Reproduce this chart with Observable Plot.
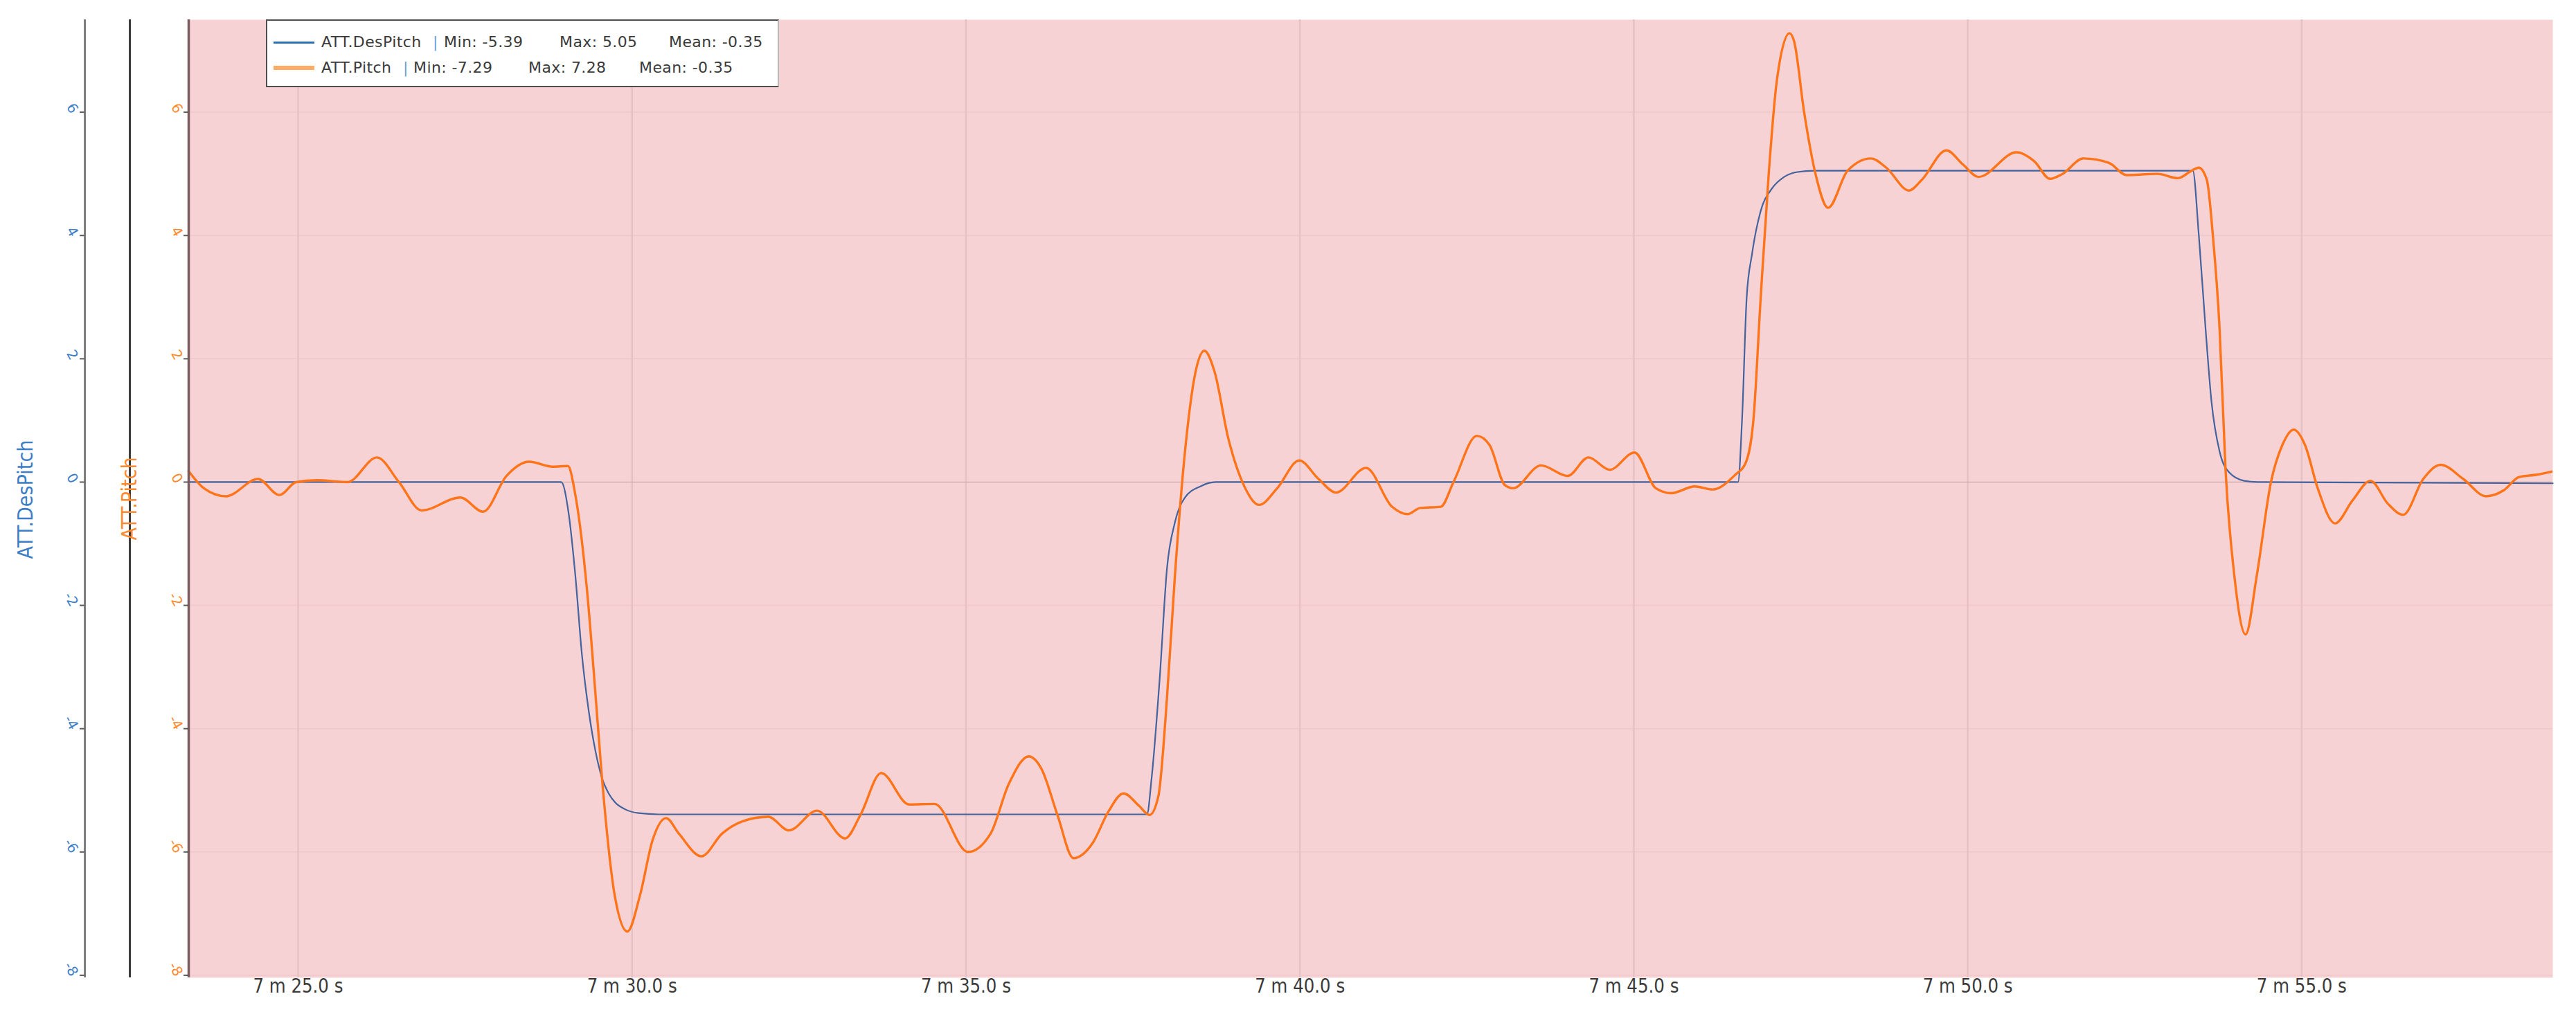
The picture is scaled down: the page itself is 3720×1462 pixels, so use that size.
<!DOCTYPE html>
<html><head><meta charset="utf-8">
<script src="https://cdn.jsdelivr.net/npm/d3@7"></script>
<script src="https://cdn.jsdelivr.net/npm/@observablehq/plot@0.6"></script>
<style>
html,body{margin:0;padding:0;background:#fff;}
#wrap{position:relative;width:3720px;height:1462px;}
#legend{position:absolute;left:384px;top:28px;width:737px;height:94px;background:#fff;border:2px solid #4d4d4d;border-right-color:#b8b8b8;font-family:"DejaVu Sans",sans-serif;font-size:22px;letter-spacing:0.4px;color:#3a3a3a;box-sizing:content-box;}
.item{position:absolute;white-space:nowrap;line-height:22px;height:22px;}
.swatch{position:absolute;}
</style></head><body><div id="wrap"><div id="chart"></div><div id="legend"></div></div>
<script>
// ---- data ----
const seriesNames = ["ATT.DesPitch", "ATT.Pitch"];
const seriesMin = [-5.39, -7.29];
const seriesMax = [5.05, 7.28];
const seriesMean = [-0.35, -0.35];
const yTicks = [-8, -6, -4, -2, 0, 2, 4, 6];
const xTicks = [25, 30, 35, 40, 45, 50, 55];
const xTickLabels = ["7 m 25.0 s", "7 m 30.0 s", "7 m 35.0 s", "7 m 40.0 s", "7 m 45.0 s", "7 m 50.0 s", "7 m 55.0 s"];
const xDomain = [23.362, 58.76];
const yDomain = [-8.04, 7.5];

const desPitchT = [23.36, 28.94, 29.05, 29.15, 29.25, 29.35, 29.45, 29.55, 29.65, 29.75, 29.9, 30.1, 30.4,
  37.71, 37.78, 37.90, 38.01, 38.13, 38.28, 38.51, 38.74,
  46.56, 46.62, 46.69, 46.77, 46.90, 47.06, 47.25, 47.45, 47.7,
  53.37, 53.46, 53.56, 53.65, 53.77, 53.92, 54.14, 54.33, 58.76];
const desPitchV = [0, 0, -0.5, -1.5, -2.8, -3.7, -4.35, -4.8, -5.05, -5.2, -5.31, -5.37, -5.39,
  -5.39, -4.8, -3.2, -1.4, -0.65, -0.25, -0.07, 0,
  0, 1.0, 3.0, 3.7, 4.4, 4.75, 4.95, 5.03, 5.05,
  5.05, 4.0, 2.5, 1.3, 0.5, 0.15, 0.02, 0, -0.02];

const pitchT = [23.36, 23.59, 23.92, 24.40, 24.72, 24.97, 25.28, 25.74, 26.18, 26.51, 26.85, 27.43, 27.77, 28.12, 28.46, 28.81, 29.04, 29.15,
  29.33, 29.45, 29.55, 29.74, 29.93, 30.12, 30.31, 30.51, 30.70, 31.04, 31.35, 31.66, 32.04, 32.35, 32.77, 33.19, 33.42, 33.73, 34.15, 34.53, 35.03,
  35.37, 35.64, 35.94, 36.13, 36.37, 36.61, 36.90, 37.13, 37.36, 37.59, 37.75, 37.88, 38.01, 38.13, 38.28, 38.44, 38.57, 38.72, 38.93, 39.16, 39.39, 39.66, 39.99, 40.28, 40.54, 40.99,
  41.38, 41.61, 41.80, 42.11, 42.30, 42.65, 42.84, 43.07, 43.19, 43.61, 44.01, 44.32, 44.64, 45.01, 45.33, 45.56, 45.91, 46.18, 46.52, 46.67, 46.79, 46.90, 47.02, 47.14, 47.33,
  47.40, 47.55, 47.72, 47.91, 48.20, 48.55, 48.78, 49.12, 49.31, 49.68, 49.93, 50.16, 50.73, 51.00, 51.23, 51.42, 51.73, 52.11, 52.38, 52.84, 53.15,
  53.35, 53.46, 53.58, 53.67, 53.77, 53.86, 53.99, 54.16, 54.33, 54.54, 54.71, 54.88, 55.05, 55.24, 55.50, 55.76, 56.03, 56.29, 56.52, 56.82, 57.08, 57.42, 57.76, 58.03, 58.25, 58.52, 58.74];
const pitchV = [0.18, -0.10, -0.23, 0.05, -0.21, 0.0, 0.03, 0.0, 0.40, 0.0, -0.46, -0.25, -0.48, 0.10, 0.33, 0.25, 0.26, -0.2,
  -1.8, -3.4, -4.8, -6.7, -7.29, -6.7, -5.8, -5.45, -5.7, -6.07, -5.7, -5.5, -5.43, -5.65, -5.33, -5.78, -5.4, -4.72, -5.23, -5.22, -6.0,
  -5.7, -4.9, -4.45, -4.65, -5.4, -6.1, -5.85, -5.35, -5.05, -5.25, -5.4, -5.1, -3.5, -1.5, 0.5, 1.8, 2.13, 1.8, 0.7, -0.05, -0.37, -0.1, 0.35, 0.05, -0.17, 0.23,
  -0.4, -0.52, -0.42, -0.4, 0.0, 0.75, 0.6, -0.05, -0.1, 0.27, 0.1, 0.4, 0.2, 0.48, -0.1, -0.18, -0.07, -0.12, 0.12, 0.3, 1.0, 3.0, 5.0, 6.5, 7.28,
  7.15, 6.0, 5.0, 4.45, 5.05, 5.25, 5.1, 4.73, 4.9, 5.38, 5.15, 4.95, 5.35, 5.2, 4.92, 5.0, 5.25, 5.18, 4.98, 5.0, 4.93,
  5.05, 5.1, 4.9, 4.0, 2.5, 0.2, -1.5, -2.47, -1.5, 0.0, 0.6, 0.85, 0.6, -0.1, -0.67, -0.3, 0.02, -0.35, -0.53, 0.05, 0.28, 0.05, -0.23, -0.13, 0.08, 0.12, 0.17];

// ---- colours ----
const blueLine = "#42639e", orangeLine = "#ff7418";
const blueText = "#3d7ec6", orangeText = "#ff8a2e";

const des = desPitchT.map((t, i) => ({t, v: desPitchV[i]}));
const pit = pitchT.map((t, i) => ({t, v: pitchV[i]}));

const W = 3720, ML = 272, MR = 34;
const pxPerUnitX = (W - ML - MR) / (xDomain[1] - xDomain[0]);
const tickLen = 7 / pxPerUnitX; // 7px tick marks expressed in x units

const chart = Plot.plot({
  width: W, height: 1462,
  marginLeft: ML, marginRight: MR, marginTop: 28, marginBottom: 50,
  x: {domain: xDomain, axis: null},
  y: {domain: yDomain, axis: null},
  style: {background: "white", fontFamily: "'DejaVu Sans', sans-serif", overflow: "visible"},
  marks: [
    Plot.frame({fill: "#f7d2d4", stroke: "none"}),
    Plot.ruleY(yTicks.filter(d => d !== 0), {y: d => d, stroke: "#eec7ca", strokeWidth: 1.5}),
    Plot.ruleX(xTicks, {x: d => d, stroke: "#e6c2c4", strokeWidth: 2.5}),
    Plot.ruleY([0], {y: d => d, stroke: "#d4aeb0", strokeWidth: 1.5}),
    Plot.line(des, {x: "t", y: "v", stroke: blueLine, strokeWidth: 2.2, curve: "monotone-x"}),
    Plot.line(pit, {x: "t", y: "v", stroke: orangeLine, strokeWidth: 3.4, curve: "monotone-x"}),
    // plot left border and the two y axis lines
    Plot.ruleX([xDomain[0]], {x: d => d, stroke: "#7a5c5e", strokeWidth: 3.5}),
    Plot.ruleX([xDomain[0]], {x: d => d, dx: -85, stroke: "#3c3c3c", strokeWidth: 3}),
    Plot.ruleX([xDomain[0]], {x: d => d, dx: -150, stroke: "#7e7e7e", strokeWidth: 3}),
    // tick marks
    Plot.ruleY(yTicks, {y: d => d, x1: () => xDomain[0] - tickLen, x2: () => xDomain[0], stroke: "#5a5a5a", strokeWidth: 2}),
    Plot.ruleY(yTicks, {y: d => d, x1: () => xDomain[0] - tickLen, x2: () => xDomain[0], dx: -150, stroke: "#5a5a5a", strokeWidth: 2}),
    // tick labels (rotated)
    Plot.text(yTicks, {y: d => d, text: d => String(d), frameAnchor: "left", dx: -14, rotate: 60, textAnchor: "end", fill: orangeText, fontSize: 20}),
    Plot.text(yTicks, {y: d => d, text: d => String(d), frameAnchor: "left", dx: -165, rotate: 60, textAnchor: "end", fill: blueText, fontSize: 20}),
    // axis titles (text runs upward from the anchor)
    Plot.text([seriesNames[0]], {text: d => d, frameAnchor: "left", dx: 37 - 272, dy: 87, rotate: -90, textAnchor: "start", fill: blueText, fontSize: 30}),
    Plot.text([seriesNames[1]], {text: d => d, frameAnchor: "left", dx: 187 - 272, dy: 60, rotate: -90, textAnchor: "start", fill: orangeText, fontSize: 30}),
    // x tick labels
    Plot.text(xTicks, {x: d => d, text: (d, i) => xTickLabels[i], frameAnchor: "bottom", dy: 21, fill: "#3a3a3a", fontSize: 28})
  ]
});
document.getElementById("chart").appendChild(chart);

// condense texts like the reference's narrow font
d3.select(chart).selectAll("text").each(function() {
  const s = this.textContent;
  if (xTickLabels.includes(s)) { this.setAttribute("textLength", 130); this.setAttribute("lengthAdjust", "spacingAndGlyphs"); }
  if (s === seriesNames[0]) { this.setAttribute("textLength", 172); this.setAttribute("lengthAdjust", "spacingAndGlyphs"); }
  if (s === seriesNames[1]) { this.setAttribute("textLength", 120); this.setAttribute("lengthAdjust", "spacingAndGlyphs"); }
});

// ---- legend ----
const legend = document.getElementById("legend");
const rows = [
  {top: 20, color: "#2b6fb5", w: 3, pipe: 239, min: 255, max: 422, mean: 580},
  {top: 57, color: "#ffab66", w: 6, pipe: 196, min: 211, max: 377, mean: 537}
];
rows.forEach((r, i) => {
  const sw = document.createElement("div");
  sw.className = "swatch";
  sw.style.cssText = `left:9px;width:59px;top:${r.top + 11 - r.w / 2}px;height:${r.w}px;background:${r.color};`;
  legend.appendChild(sw);
  const add = (txt, left, color) => {
    const d = document.createElement("div");
    d.className = "item"; d.textContent = txt;
    d.style.left = left + "px"; d.style.top = r.top + "px";
    if (color) d.style.color = color;
    legend.appendChild(d);
  };
  add(seriesNames[i], 78);
  add("|", r.pipe, "#6a9fd6");
  add("Min: " + seriesMin[i].toFixed(2), r.min);
  add("Max: " + seriesMax[i].toFixed(2), r.max);
  add("Mean: " + seriesMean[i].toFixed(2), r.mean);
});
</script>
</body></html>
